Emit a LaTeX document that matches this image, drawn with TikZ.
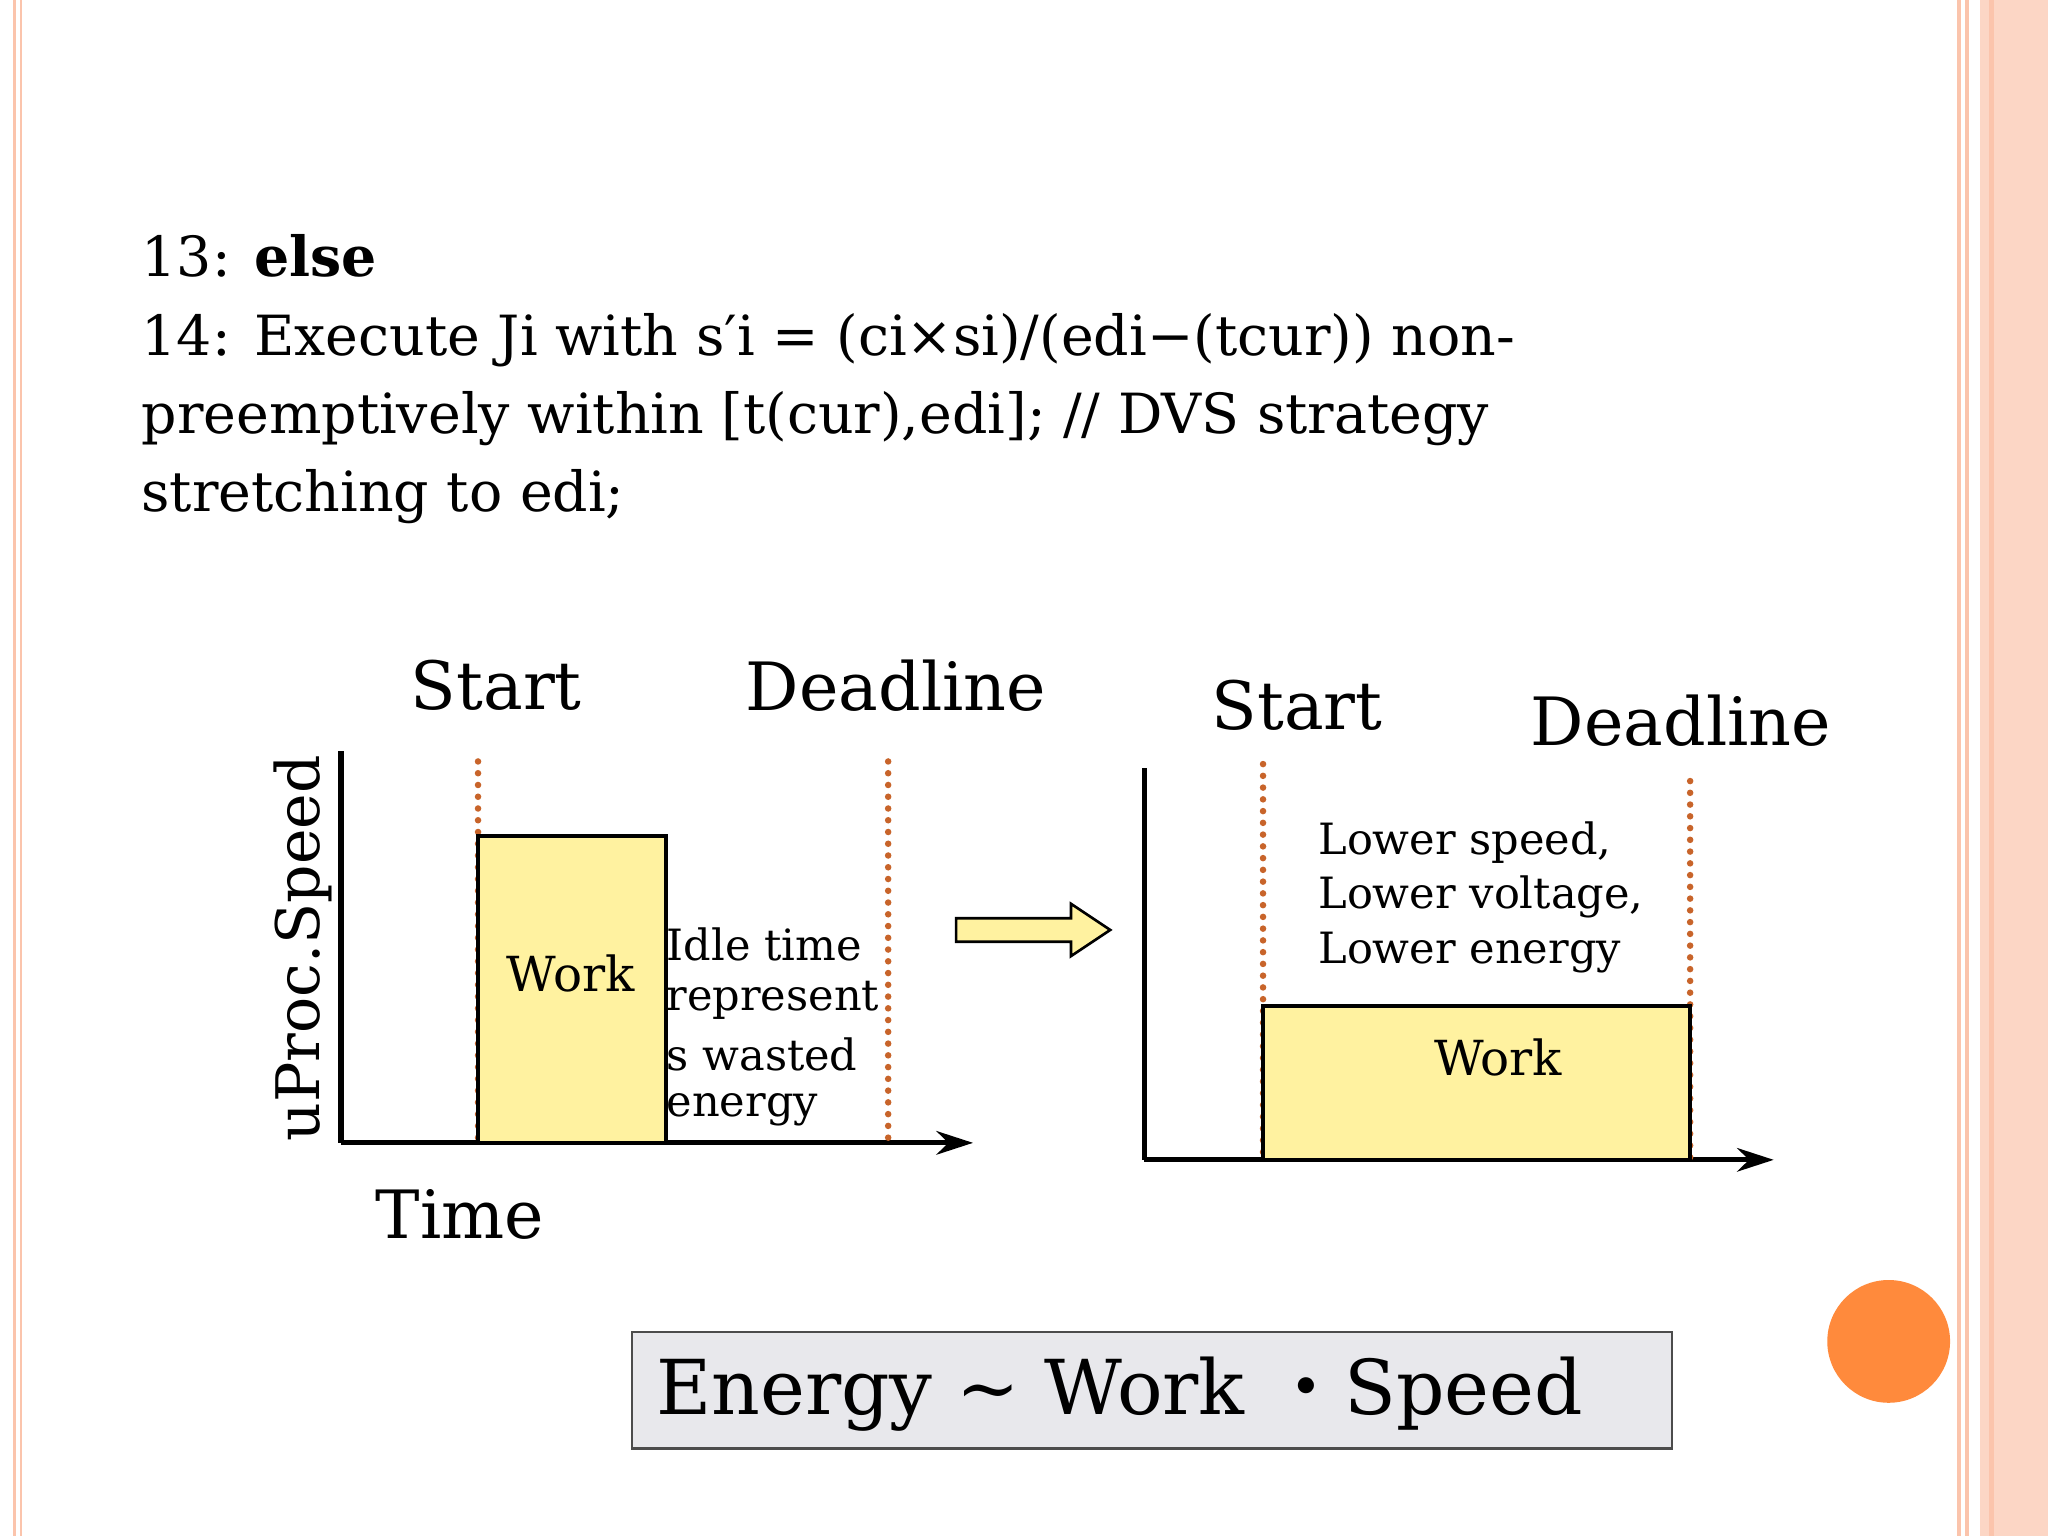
\documentclass[tikz,border=0pt]{standalone}
\usepackage{fontspec}
\setmainfont{DejaVu Serif}
\newfontfamily\cjk{Noto Sans CJK JP}
\usetikzlibrary{arrows.meta}
\definecolor{dotc}{HTML}{C8642A}
\definecolor{workc}{HTML}{FFF2A0}
\definecolor{bord}{HTML}{FBC4AC}
\tikzset{
 axis/.style={line width=2pt},
 dl/.style={dotc,line width=2.5pt,dash pattern=on 0pt off 4.5pt,line cap=round},
 workbox/.style={draw=black,fill=workc,line width=1.4pt},
 lbl/.style={inner sep=0pt,font=\fontsize{25.5}{30}\selectfont},
 sm/.style={inner sep=0pt,anchor=west,font=\fontsize{16.5}{20}\selectfont},
 top/.style={anchor=base west,inner sep=0pt,font=\fontsize{21.2}{30}\selectfont},
}
\begin{document}
\begin{tikzpicture}[x=0.5pt,y=-0.5pt]
\useasboundingbox (0,0) rectangle (1568,1176);
\fill[white] (0,0) rectangle (1568,1176);
% borders
\draw[bord,line width=1pt] (11,0)--(11,1176) (16,0)--(16,1176);
\draw[bord,line width=1.5pt] (1500,0)--(1500,1176) (1506,0)--(1506,1176);
\fill[bord!70] (1516,0) rectangle (1568,1176);
\draw[bord,line width=2pt] (1525,0)--(1525,1176);
\fill[color={rgb,255:red,255;green,138;blue,60}] (1446,1027) circle (47);
% top text
\node[top] (t1) at (108,212) {13: \textbf{else}};
\node[top] (t2) at (108,272) {14: Execute Ji with s′i = (ci×si)/(edi−(tcur)) non-};
\node[top] (t3) at (108,332) {preemptively within [t(cur),edi]; // DVS strategy};
\node[top] (t4) at (108,392) {stretching to edi;};
% left chart
\coordinate (lo) at (261,875);
\coordinate (ltop) at (261,575);
\coordinate (lend) at (745,875);
\draw[axis] (ltop)--(lo);
\draw[axis,-{Stealth[length=14pt,width=9pt]}] (lo)--(lend);
\draw[dl] (366,583)--(366,875);
\draw[dl] (680,583)--(680,875);
\node[workbox,minimum width=72pt,minimum height=117.5pt,inner sep=0pt] (w1) at (438,757.5) {};
\node[lbl,font=\fontsize{18.5}{22}\selectfont] at (437,745) {Work};
\node[sm] at (510,723) {Idle time};
\node[sm] at (510,766) {represent};
\node[sm] at (510,807) {s wasted};
\node[sm] at (510,850) {energy};
\node[lbl,rotate=90,font=\fontsize{23}{26}\selectfont] (ys) at (232,726) {uProc.Speed};
\node[lbl] (s1) at (380,525) {Start};
\node[lbl] (d1) at (686,525) {Deadline};
\node[lbl] (tm) at (352,930) {Time};
% block arrow
\draw[black,fill=workc,line width=1pt] (732,703)--(820,703)--(820,692)--(850,712)--(820,732)--(820,721)--(732,721)--cycle;
% right chart
\coordinate (ro) at (876,888);
\coordinate (rtop) at (876,588);
\coordinate (rend) at (1358,888);
\draw[axis] (rtop)--(ro);
\draw[axis,-{Stealth[length=14pt,width=9pt]}] (ro)--(rend);
\draw[dl] (967,585)--(967,888);
\draw[dl] (1294,598)--(1294,888);
\node[workbox,minimum width=163.5pt,minimum height=59pt,inner sep=0pt] (w2) at (1130.5,829) {};
\node[lbl,font=\fontsize{18.5}{22}\selectfont] at (1147,810) {Work};
\node[sm] at (1009,645) {Lower speed,};
\node[sm] at (1009,687) {Lower voltage,};
\node[sm] at (1009,729) {Lower energy};
\node[lbl] (s2) at (993,540) {Start};
\node[lbl] (d2) at (1287,552) {Deadline};
% formula box
\node[draw=black!70,fill={rgb,255:red,232;green,232;blue,236},line width=0.8pt,minimum width=398pt,minimum height=44.5pt,inner sep=0pt] (fb) at (882,1064.5) {};
\node[anchor=west,inner sep=0pt,font=\fontsize{29}{34}\selectfont] at (502,1067) {Energy \textasciitilde\ Work {\cjk ・}Speed};
\end{tikzpicture}
\end{document}
